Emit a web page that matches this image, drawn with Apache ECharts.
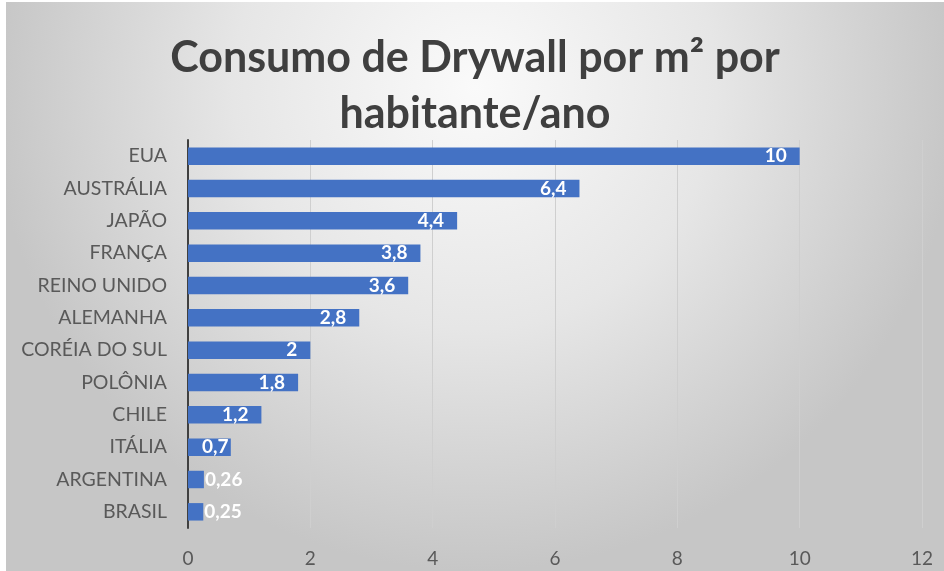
<!DOCTYPE html>
<html><head><meta charset="utf-8">
<script src="https://cdn.jsdelivr.net/npm/echarts@6/dist/echarts.min.js"></script>
<style>
html,body{margin:0;padding:0;background:#fff;width:944px;height:571px;overflow:hidden}
#c{position:absolute;left:6px;top:2px;width:938px;height:569px}
</style></head><body>
<div id="c"></div>
<script>
const categories = ['EUA','AUSTRÁLIA','JAPÃO','FRANÇA','REINO UNIDO','ALEMANHA','CORÉIA DO SUL','POLÔNIA','CHILE','ITÁLIA','ARGENTINA','BRASIL'];
const values = [10, 6.4, 4.4, 3.8, 3.6, 2.8, 2, 1.8, 1.2, 0.7, 0.26, 0.25];
const titleText = 'Consumo de Drywall por m² por\nhabitante/ano';

const seriesData = values.map(v => v < 0.5
  ? {value: v, label: {position: 'right', distance: 1}}
  : (v < 1 ? {value: v, label: {position: 'insideLeft', distance: 14}} : v));

const chart = echarts.init(document.getElementById('c'));
chart.setOption({
  backgroundColor: {type:'radial', x:0.5, y:0.15, r:0.85,
    colorStops:[{offset:0,color:'#fafafa'},{offset:0.5,color:'#e6e6e6'},{offset:1,color:'#c6c6c6'}]},
  title: {text: titleText, left:'center', top:23,
    textStyle:{fontFamily:'Lato', fontWeight:'bold', fontSize:43, lineHeight:56, color:'#3f3f3f'}},
  grid: {left:182, right:22, top:138, bottom:43, containLabel:false},
  xAxis: {type:'value', min:0, max:12, interval:2,
    axisLine:{show:false}, axisTick:{show:false},
    axisLabel:{fontFamily:'Lato', fontSize:19, color:'#595959', margin:21},
    splitLine:{lineStyle:{color:'#cfcfcf', width:1}}},
  yAxis: {type:'category', data:categories, inverse:true,
    axisLine:{lineStyle:{color:'#404040', width:2}}, axisTick:{show:false},
    axisLabel:{fontFamily:'Lato', fontSize:19.5, color:'#595959', margin:21}},
  series: [{type:'bar', data:seriesData, barCategoryGap:'46%',
    itemStyle:{color:'#4472C4'},
    label:{show:true, position:'insideRight', distance:13, color:'#fff', fontFamily:'Lato', fontWeight:'bold', fontSize:19,
      formatter: p => String(p.value).replace('.', ',')}
  }]
});
</script></body></html>
